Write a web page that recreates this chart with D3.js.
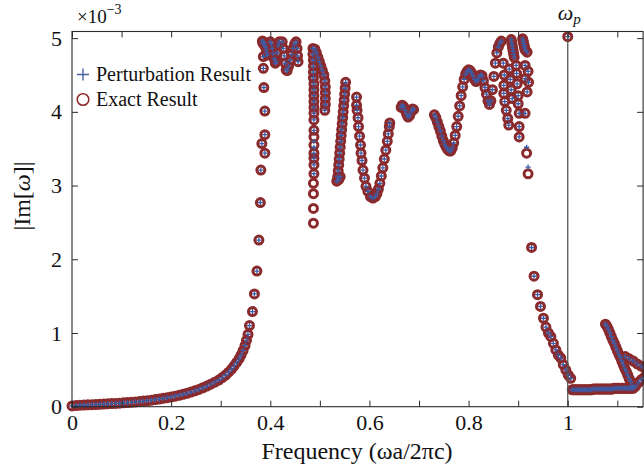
<!DOCTYPE html>
<html><head><meta charset="utf-8">
<script src="https://cdn.jsdelivr.net/npm/d3@7"></script>
<style>
body{margin:0;background:#fff}
svg{display:block}
text{font-family:"Liberation Serif","Times New Roman",serif;fill:#111}
</style>
</head><body>
<svg id="chart" width="644" height="473"></svg>
<script>
// Frequency (ωa/2πc) of each sample
const freq = [
0,0.008,0.016,0.024,0.032,0.040,0.048,0.056,0.064,0.072,0.080,0.088,0.096,0.104,0.112,0.120,0.128,0.136,0.144,0.152,0.160,0.168,0.176,0.184,0.192,0.200,0.208,0.216,0.224,0.232,0.240,0.248,0.256,0.264,0.272,0.280,0.288,0.296,0.303,0.310,0.316,0.322,0.327,0.332,0.337,0.341,0.345,0.349,0.352,0.355,0.358,0.364,0.368,0.373,0.377,0.380,0.381,
0.389,0.383,0.389,0.389,0.387,0.386,0.386,0.385,
0.384,0.386,0.388,0.390,0.392,0.393,0.394,
0.400,0.402,0.404,0.406,0.408,0.410,0.412,0.414,0.416,0.418,
0.424,0.426,0.428,0.430,0.432,0.434,0.437,0.440,0.443,0.446,0.449,0.452,0.454,0.455,0.456,
0.486,0.486,0.487,0.487,0.487,0.487,0.488,0.488,0.488,0.488,0.488,0.488,0.488,0.488,0.488,0.488,0.488,0.488,0.488,0.488,0.487,0.487,0.487,0.487,
0.490,0.493,0.496,0.499,0.502,0.505,0.508,0.510,0.511,0.511,0.511,0.511,0.510,
0.534,0.536,0.537,0.538,0.539,0.540,0.541,0.542,0.543,0.544,0.545,0.546,0.547,0.548,0.549,0.550,0.551,0.552,0.538,0.541,
0.574,0.574,0.575,0.577,0.578,0.580,0.582,0.583,0.585,0.587,0.590,0.593,0.597,0.602,0.607,0.612,0.615,0.618,0.621,0.624,0.627,0.630,0.633,0.636,0.638,0.640,0.641,
0.664,0.666,0.669,0.672,0.675,0.678,0.681,0.684,0.687,0.689,
0.731,0.734,0.737,0.740,0.743,0.746,0.749,0.752,0.755,0.758,0.761,0.764,0.767,0.770,0.773,0.776,0.779,0.782,0.785,0.788,0.791,0.794,0.797,0.800,0.803,0.806,0.809,0.812,0.815,0.818,0.821,0.824,0.827,0.830,0.833,0.836,0.839,0.842,0.845,0.848,0.851,0.854,0.857,0.860,0.863,0.866,
0.886,0.887,0.888,0.889,0.890,0.891,0.892,
0.909,0.910,0.911,0.912,0.913,0.914,
0.870,0.872,0.871,0.871,0.873,0.876,0.879,0.881,
0.882,0.884,0.886,0.888,
0.896,0.897,0.898,0.900,0.900,0.902,0.902,0.902,
0.914,0.914,0.918,0.914,0.917,0.920,0.920,0.921,0.918,
0.927,0.932,0.939,0.945,0.951,0.956,0.961,0.966,0.971,0.976,0.981,0.986,0.991,0.996,1.001,1.006,
1.000,
1.009,1.012,1.015,1.018,1.021,1.024,1.027,1.030,1.033,1.036,1.039,1.042,1.045,1.048,1.051,1.054,1.057,1.060,1.063,1.066,1.069,1.072,1.075,1.078,1.081,1.084,1.087,1.090,1.093,1.096,1.099,1.102,1.105,1.108,1.111,1.114,1.117,1.120,1.123,1.126,1.129,1.132,
1.076,1.079,1.082,1.085,1.088,1.091,1.094,1.097,1.100,1.103,1.106,1.109,1.112,1.115,1.118,1.121,1.124,1.127,1.130,1.133,
1.116,1.124,1.132,1.140,1.148,1.156,
1.137,1.143,1.149,1.155
];
// Exact result |Im[ω]| (×10^-3)
const exactIm = [
0.010,0.015,0.020,0.022,0.025,0.028,0.030,0.033,0.036,0.039,0.042,0.045,0.048,0.052,0.056,0.060,0.065,0.070,0.076,0.082,0.089,0.096,0.104,0.113,0.122,0.132,0.143,0.155,0.168,0.182,0.198,0.215,0.235,0.257,0.280,0.305,0.333,0.362,0.395,0.430,0.468,0.510,0.555,0.600,0.650,0.700,0.760,0.830,0.900,0.980,1.100,1.290,1.530,1.840,2.260,2.770,3.210,
3.44,3.57,3.69,4.01,4.33,4.59,4.75,4.93,
4.96,4.95,4.92,4.88,4.84,4.80,4.77,
4.95,4.92,4.86,4.79,4.72,4.66,4.68,4.80,4.90,4.95,
4.95,4.86,4.76,4.66,4.57,4.56,4.62,4.70,4.78,4.86,4.92,4.95,4.86,4.76,4.68,
4.86,4.78,4.70,4.62,4.54,4.46,4.38,4.30,4.22,4.14,4.06,3.98,3.89,3.75,3.66,3.55,3.44,3.37,3.28,3.16,3.03,2.89,2.69,2.49,
4.85,4.80,4.74,4.68,4.62,4.56,4.50,4.42,4.34,4.26,4.18,4.10,4.02,
3.06,3.12,3.20,3.28,3.36,3.44,3.52,3.60,3.68,3.76,3.84,3.92,4.00,4.08,4.16,4.24,4.32,4.40,3.08,3.12,
4.20,4.09,4.02,3.92,3.80,3.67,3.55,3.44,3.34,3.21,3.10,2.99,2.92,2.85,2.83,2.85,2.89,2.95,3.03,3.13,3.24,3.36,3.48,3.60,3.70,3.80,3.85,
4.06,4.09,4.07,4.02,3.97,3.93,3.95,4.00,4.04,4.03,
3.96,3.92,3.86,3.80,3.74,3.67,3.61,3.56,3.52,3.49,3.47,3.47,3.51,3.58,3.68,3.80,3.94,4.08,4.22,4.34,4.44,4.51,4.55,4.57,4.56,4.53,4.49,4.44,4.41,4.43,4.47,4.50,4.49,4.42,4.33,4.24,4.15,4.10,4.15,4.30,4.48,4.66,4.80,4.88,4.93,4.96,
4.98,4.94,4.90,4.86,4.82,4.78,4.74,
4.99,4.96,4.93,4.90,4.87,4.84,
4.66,4.50,4.36,4.25,4.14,4.02,3.91,3.82,
4.58,4.44,4.30,4.18,
4.63,4.52,4.38,4.22,4.11,3.98,3.80,3.66,
4.63,4.45,4.27,3.98,3.44,3.16,4.55,4.40,4.81,
2.16,1.77,1.52,1.36,1.20,1.08,1.00,0.95,0.86,0.77,0.70,0.66,0.57,0.50,0.43,0.385,
5.02,
0.23,0.23,0.23,0.23,0.23,0.23,0.23,0.23,0.23,0.23,0.23,0.23,0.23,0.23,0.24,0.24,0.24,0.24,0.24,0.24,0.24,0.24,0.24,0.24,0.24,0.24,0.24,0.24,0.25,0.25,0.25,0.25,0.25,0.25,0.25,0.25,0.25,0.25,0.25,0.25,0.25,0.25,
1.12,1.09,1.05,1.00,0.95,0.90,0.86,0.81,0.76,0.71,0.67,0.62,0.57,0.52,0.48,0.43,0.38,0.34,0.29,0.26,
0.68,0.65,0.62,0.58,0.55,0.52,
0.28,0.33,0.37,0.40
];
// Perturbation result |Im[ω]| (×10^-3); null where no marker is visible
const perturbIm = [
0.010,0.015,0.020,0.022,0.025,0.028,0.030,0.033,0.036,0.039,0.042,0.045,0.048,0.052,0.056,0.060,0.065,0.070,0.076,0.082,0.089,0.096,0.104,0.113,0.122,0.132,0.143,0.155,0.168,0.182,0.198,0.215,0.235,0.257,0.280,0.305,0.333,0.362,0.395,0.430,0.468,0.510,0.555,0.600,0.650,0.700,0.760,0.830,0.900,0.980,1.100,1.290,1.530,1.840,2.260,2.770,3.210,
3.44,3.57,3.69,4.01,4.33,4.59,4.75,4.93,
4.96,4.95,4.92,4.88,4.84,4.80,4.77,
4.95,4.92,4.86,4.79,4.72,4.66,4.68,4.80,4.90,4.95,
4.95,4.86,4.76,4.66,4.57,4.56,4.62,4.70,4.78,4.86,4.92,4.95,4.86,4.76,4.68,
4.86,4.78,4.70,4.62,4.54,4.46,4.38,4.30,4.22,4.14,4.06,3.98,3.89,3.75,3.60,3.52,3.44,3.37,3.28,3.16,null,null,null,null,
4.85,4.80,4.74,4.68,4.62,4.56,4.50,4.42,4.34,4.26,4.18,4.10,4.02,
3.06,3.12,3.20,3.28,3.36,3.44,3.52,3.60,3.68,3.76,3.84,3.92,4.00,4.08,4.16,4.24,4.32,4.40,3.08,3.12,
4.20,4.09,4.02,3.92,3.80,3.67,3.55,3.44,3.34,3.21,3.10,2.99,2.92,2.85,2.83,2.85,2.89,2.95,3.03,3.13,3.24,3.36,3.48,3.60,3.70,3.80,3.85,
4.06,4.09,4.07,4.02,3.97,3.93,3.95,4.00,4.04,4.03,
3.96,3.92,3.86,3.80,3.74,3.67,3.61,3.56,3.52,3.49,3.47,3.47,3.51,3.58,3.68,3.80,3.94,4.08,4.22,4.34,4.44,4.51,4.55,4.57,4.56,4.53,4.49,4.44,4.41,4.43,4.47,4.50,4.49,4.42,4.33,4.24,4.15,4.10,4.15,4.30,4.48,4.66,4.80,4.88,4.93,4.96,
4.98,4.94,4.90,4.86,4.82,4.78,4.74,
4.99,4.96,4.93,4.90,4.87,4.84,
4.66,4.50,4.36,4.25,4.14,4.02,3.91,3.82,
4.58,4.44,4.30,4.18,
4.63,4.52,4.38,4.22,4.11,3.98,3.80,3.66,
4.63,4.45,4.27,3.98,3.52,3.25,4.55,4.40,4.81,
2.16,1.77,1.52,1.36,1.20,1.08,1.00,0.95,0.86,0.77,0.70,0.66,0.57,0.50,0.43,0.385,
5.02,
0.23,0.23,0.23,0.23,0.23,0.23,0.23,0.23,0.23,0.23,0.23,0.23,0.23,0.23,0.24,0.24,0.24,0.24,0.24,0.24,0.24,0.24,0.24,0.24,0.24,0.24,0.24,0.24,0.25,0.25,0.25,0.25,0.25,0.25,0.25,0.25,0.25,0.25,0.25,0.25,0.25,0.25,
1.12,1.09,1.05,1.00,0.95,0.90,0.86,0.81,0.76,0.71,0.67,0.62,0.57,0.52,0.48,0.43,0.38,0.34,0.29,0.26,
0.68,0.65,0.62,0.58,0.55,0.52,
0.28,0.33,0.37,0.40
];
const xTicks = [0,0.1,0.2,0.3,0.4,0.5,0.6,0.7,0.8,0.9,1.0,1.1];
const xTickLabels = ["0","","0.2","","0.4","","0.6","","0.8","","1",""];
const yTicks = [0,1,2,3,4,5];
const yTickLabels = ["0","1","2","3","4","5"];
const plasmaFreq = 1.0;
const seriesNames = ["Perturbation Result","Exact Result"];

const svg = d3.select("#chart");
const L = 72, R = 643.1, T = 31.5, B = 406.7;
const x = d3.scaleLinear().domain([0, 1.152]).range([L, R]);
const y = d3.scaleLinear().domain([0, 5.09]).range([B, T]);
const axisColor = "#2b2b2b";
const circColor = "#8b2a2c";
const plusColor = "#3d5ca6";

// markers
const idx = d3.range(freq.length);
const gm = svg.append("g");
gm.selectAll("circle").data(idx).join("circle")
  .attr("cx", i => x(freq[i])).attr("cy", i => y(exactIm[i]))
  .attr("r", 4.0).attr("fill", "none")
  .attr("stroke", circColor).attr("stroke-width", 3.0);
const plus = "M-2.6,0H2.6M0,-2.6V2.6";
gm.selectAll("path").data(idx.filter(i => perturbIm[i] != null)).join("path")
  .attr("transform", i => `translate(${x(freq[i])},${y(perturbIm[i])})`)
  .attr("d", plus).attr("fill", "none")
  .attr("stroke", plusColor).attr("stroke-width", 1.3);

// plasma frequency line
svg.append("line").attr("x1", x(plasmaFreq)).attr("x2", x(plasmaFreq))
  .attr("y1", T).attr("y2", B).attr("stroke", "#555").attr("stroke-width", 1.3);

// axes
function styleAxis(g){
  g.select(".domain").remove();
  g.selectAll(".tick line").attr("stroke", axisColor).attr("stroke-width", 1);
  g.selectAll(".tick text").attr("font-size", 22).attr("fill", "#111")
   .style("font-family", '"Liberation Serif","Times New Roman",serif');
}
svg.append("g").attr("transform", `translate(0,${B})`)
  .call(d3.axisBottom(x).tickValues(xTicks).tickSize(-6).tickPadding(8)
    .tickFormat((d, i) => xTickLabels[i])).call(styleAxis);
svg.append("g").attr("transform", `translate(0,${T})`)
  .call(d3.axisTop(x).tickValues(xTicks).tickSize(-6).tickFormat(() => "")).call(styleAxis);
svg.append("g").attr("transform", `translate(${L},0)`)
  .call(d3.axisLeft(y).tickValues(yTicks).tickSize(-6).tickPadding(10)
    .tickFormat((d, i) => yTickLabels[i])).call(styleAxis);
svg.append("g").attr("transform", `translate(${R},0)`)
  .call(d3.axisRight(y).tickValues(yTicks).tickSize(-6).tickFormat(() => "")).call(styleAxis);
svg.append("rect").attr("x", L).attr("y", T).attr("width", R - L).attr("height", B - T)
  .attr("fill", "none").attr("stroke", axisColor).attr("stroke-width", 1.1);

// exponent
const ex = svg.append("text").attr("x", 77).attr("y", 23).attr("font-size", 19);
ex.append("tspan").text("×10");
ex.append("tspan").attr("font-size", 14).attr("dy", -9).text("−3");

// ω_p label
const wp = svg.append("text").attr("x", x(plasmaFreq) - 10).attr("y", 20).attr("font-size", 22);
wp.append("tspan").attr("font-style", "italic").text("ω");
wp.append("tspan").attr("font-style", "italic").attr("font-size", 15).attr("dy", 4).text("p");

// axis labels
svg.append("text").attr("x", 357).attr("y", 459)
  .attr("text-anchor", "middle").attr("font-size", 24).text("Frequency (ωa/2πc)");
const yl = svg.append("text").attr("transform", "translate(30,196) rotate(-90)")
  .attr("text-anchor", "middle").attr("font-size", 24);
yl.append("tspan").text("|Im[");
yl.append("tspan").attr("font-style", "italic").text("ω");
yl.append("tspan").text("]|");

// legend
const lg = svg.append("g");
lg.append("path").attr("transform", "translate(83,74.5)").attr("d", "M-6,0H6M0,-6V6")
  .attr("stroke", "#4a5fa0").attr("stroke-width", 1.4);
lg.append("text").attr("x", 96).attr("y", 81).attr("font-size", 20).text(seriesNames[0]);
lg.append("circle").attr("cx", 83).attr("cy", 99.5).attr("r", 5.8).attr("fill", "none")
  .attr("stroke", "#8b2a2c").attr("stroke-width", 1.5);
lg.append("text").attr("x", 96).attr("y", 106).attr("font-size", 20).text(seriesNames[1]);
</script>
</body></html>
